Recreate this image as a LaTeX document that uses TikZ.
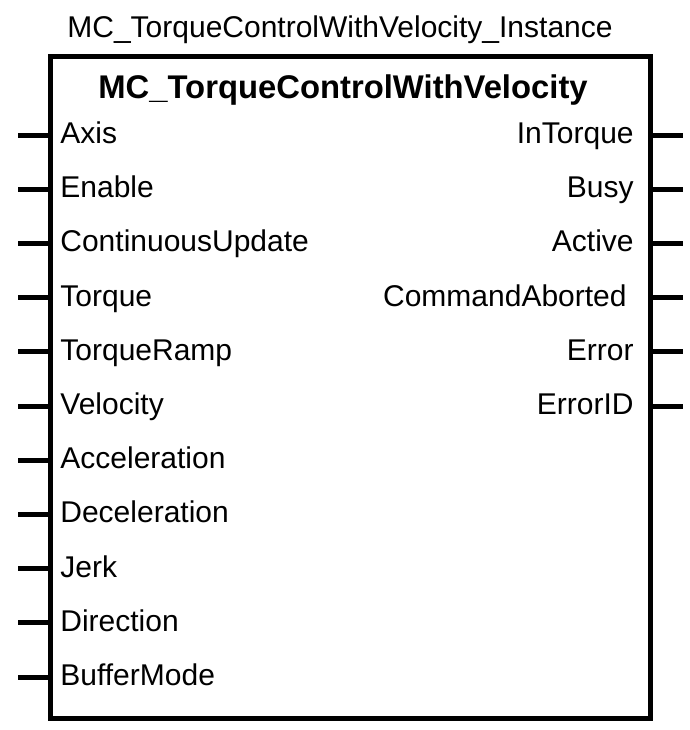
\documentclass[tikz,border=0pt]{standalone}
\usepackage{fontspec}
\setmainfont{Liberation Sans}
\usetikzlibrary{positioning}

\begin{document}
\begin{tikzpicture}[x=0.5pt, y=-0.5pt,
    fbbox/.style={draw, line width=2.5pt, minimum width=300pt, minimum height=331pt, inner sep=0pt},
    pinline/.style={line width=2.5pt},
    pinlabel/.style={inner sep=0pt, font=\fontsize{15}{18}\selectfont},
    fbtitle/.style={inner sep=0pt, font=\fontsize{16.4}{19}\selectfont\bfseries},
  ]
  \useasboundingbox (0,0) rectangle (690,730);

  % function block
  \node[fbbox] (fb) at (350,387) {};
  \node[pinlabel, anchor=base] (inst) at (340,37) {MC\_TorqueControlWithVelocity\_Instance};
  \node[fbtitle, anchor=base] (title) at (343,98) {MC\_TorqueControlWithVelocity};

  % inputs
  \foreach \name [count=\i] in {Axis, Enable, ContinuousUpdate, Torque, TorqueRamp, Velocity,
      Acceleration, Deceleration, Jerk, Direction, BufferMode} {
    \coordinate (in\i) at (18,{135+54.2*(\i-1)});
    \draw[pinline] (in\i) -- (in\i -| fb.west);
    \node[pinlabel, anchor=base west] (inlbl\i) at (60,{143.5+54.2*(\i-1)}) {\name};
  }

  % outputs
  \foreach \name [count=\i] in {InTorque, Busy, Active, {CommandAborted\kern3.5pt}, Error, ErrorID} {
    \coordinate (out\i) at (683,{135+54.2*(\i-1)});
    \draw[pinline] (out\i -| fb.east) -- (out\i);
    \node[pinlabel, anchor=base east] (outlbl\i) at (634,{143.5+54.2*(\i-1)}) {\name};
  }
\end{tikzpicture}
\end{document}
